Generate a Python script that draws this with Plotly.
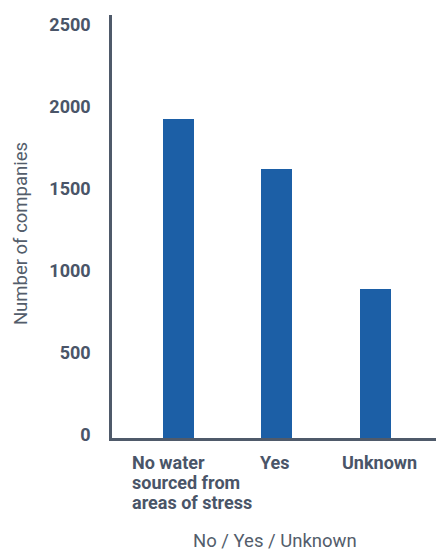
import plotly.graph_objects as go

# Companies by whether water is sourced from areas of water stress
categories = ["No water<br>sourced from<br>areas of stress", "Yes", "Unknown"]
companies = [1945, 1640, 910]
y_ticks = [0, 500, 1000, 1500, 2000, 2500]

x_title = "No / Yes / Unknown"
y_title = "Number of companies"

BAR = "#1c5fa6"
INK = "#4a5568"
SOFT = "#535d6b"
FONT = "Roboto"

fig = go.Figure(
    go.Bar(
        x=list(range(len(categories))),
        y=companies,
        width=0.314,
        marker=dict(color=BAR, line=dict(width=0)),
        hoverinfo="skip",
    )
)

# Category labels under the bars, left-aligned for the wrapped one
label_pos = [("left", -48), ("center", -2), ("center", 4)]
for i, (cat, (anchor, dx)) in enumerate(zip(categories, label_pos)):
    for j, line in enumerate(cat.split("<br>")):
        fig.add_annotation(
            x=i, xref="x", y=0, yref="paper",
            text=f"<b>{line}</b>", showarrow=False,
            xanchor=anchor, yanchor="middle",
            xshift=dx, yshift=-24 - 20 * j,
            font=dict(family=FONT, size=18, color=INK),
        )

# Axis titles
fig.add_annotation(
    x=0.5, xref="paper", y=0, yref="paper", text=x_title, showarrow=False,
    xanchor="center", yanchor="middle", xshift=1, yshift=-103,
    font=dict(family=FONT, size=18.5, color=SOFT),
)
fig.add_annotation(
    x=0, xref="paper", y=0.482, yref="paper", text=y_title, showarrow=False,
    textangle=-90, xanchor="center", yanchor="middle", xshift=-91,
    font=dict(family=FONT, size=18.5, color=SOFT),
)

fig.update_layout(
    width=436, height=551,
    margin=dict(l=112, r=0, t=15, b=113),
    paper_bgcolor="white", plot_bgcolor="white",
    showlegend=False,
    bargap=0,
    xaxis=dict(
        range=[-0.671, 2.613], showticklabels=False, ticks="",
        showgrid=False, zeroline=False,
        showline=True, linecolor="#4f5a6a", linewidth=2.5,
    ),
    yaxis=dict(
        range=[0, 2580], tickvals=y_ticks, ticktext=[str(v) for v in y_ticks],
        showgrid=False, zeroline=False, ticks="",
        showline=True, linecolor="#4f5a6a", linewidth=2.5,
        ticklabelstandoff=15, ticklabelshift=-3,
        tickfont=dict(family=FONT, size=18, color=INK, weight="bold"),
    ),
)

fig.write_html("out.html")
